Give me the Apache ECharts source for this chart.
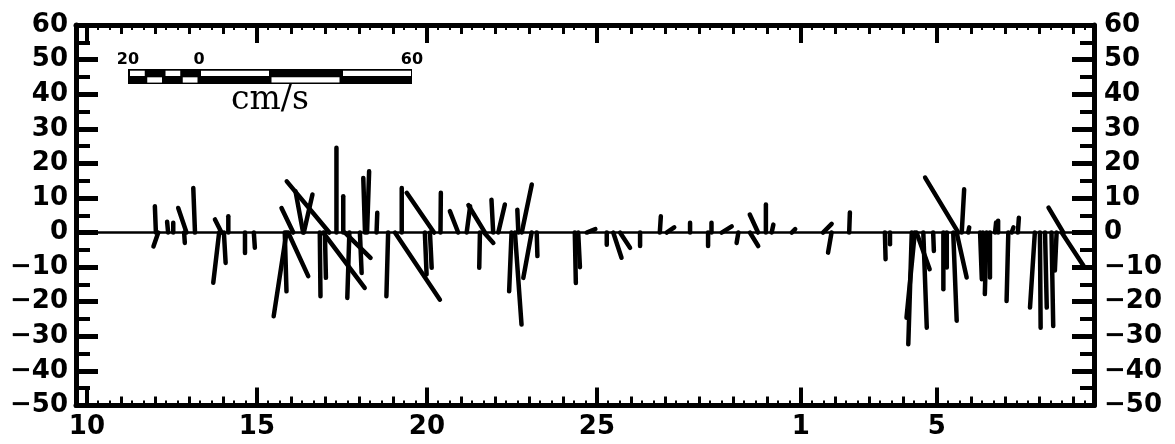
<!DOCTYPE html>
<html>
<head>
<meta charset="utf-8">
<script src="https://cdn.jsdelivr.net/npm/echarts@6/dist/echarts.min.js"></script>
<style>
html,body{margin:0;padding:0;background:#fff;}
#chart{width:1175px;height:444px;}
</style>
</head>
<body>
<div id="chart"></div>
<script>
// ---- data: stick (current vector) plot; time in days (31 = 1st of next month)
const stickTime = [12.03,12.10,12.39,12.54,12.86,12.93,13.18,13.89,13.96,14.03,14.16,14.65,14.91,
  15.82,15.87,15.92,16.07,16.36,16.38,16.85,16.95,17.00,17.13,17.34,17.54,17.59,17.72,18.03,18.18,18.24,18.52,18.86,19.06,19.26,19.94,20.09,20.21,20.40,20.92,21.17,
  21.56,21.68,21.71,21.95,22.10,22.49,22.59,22.69,22.79,23.08,23.23,24.35,24.45,24.70,25.29,25.48,25.68,26.27,26.85,27.05,27.74,28.27,28.37,28.67,29.16,29.50,29.74,29.97,30.14,30.73,
  31.65,31.90,32.42,33.47,33.62,34.26,34.35,34.40,34.60,34.89,35.19,35.29,35.48,35.58,35.63,35.73,35.92,36.27,36.35,36.46,36.56,36.71,36.80,37.10,37.20,37.38,37.88,38.03,38.18,38.37,38.52,38.67,38.72];
const stickU = [-0.3,-1.4,-0.3,0,0.2,-2.4,-0.5,-1.7,-1.9,0.5,0,0,0.3,
  0.5,-3.7,5.8,-3.4,-2.2,2.5,0.2,12,0.3,-12.3,0,0,7.4,-0.6,0.5,-0.5,0.6,0.2,-0.5,13,0,0.5,0.5,-7.9,0.1,-2.4,1,
  -0.2,2.7,-4.8,-0.5,1.9,-0.7,1.9,-0.3,2.9,-2.4,0.2,0.3,0.5,2.5,0,2.4,2.9,0,0.3,2.2,0,0,0,2.9,-0.5,2.4,-2.4,0,0.5,1,
  2.5,-1,0.2,0.2,0,-1,-2.4,3.8,1,0.2,0,0,1,2.9,-9.6,0.7,0.3,0.5,0.5,-0.5,0,0.3,0,-0.5,0.5,0.3,-1.4,0.2,0.5,0.5,-0.5,6.3,-4.3];
const stickV = [7.6,-4.0,3.1,2.8,-3.0,7.1,12.9,-14.5,3.8,-8.8,4.7,-5.9,-4.4,
  -17,-24.2,-12.6,7.1,11.9,11,-18.4,-16,-13.1,14.8,24.5,10.5,-7.3,-18.9,-11.7,15.8,17.7,5.7,-18.4,-19.4,12.9,-12.1,-10.2,11.5,11.5,6.2,7.6,
  -10.2,-3,7.9,9.5,8.1,-17,-26.6,6.6,13.9,-13.1,-6.8,-14.6,-10,1,-3.5,-7.3,-4.4,-3.9,4.7,1.5,2.8,-3.9,2.8,1.8,-3,-3.9,5.2,8.1,2.3,1,
  2.5,-5.8,5.8,-7.7,-3.4,-32.3,-24.6,-10.6,-27.5,-5.3,-16.4,-10.1,-25.5,-13,15.9,12.5,1.5,-13.5,-12,-17.8,-13,2.9,3.4,-19.8,1.5,4.3,-21.7,-27.5,-21.7,-27,-11,-9.6,7.2];

const xMin = 9.68, xMax = 39.62;
const dayLabelValues = [10, 15, 20, 25, 31, 35];
const dayLabelTexts = ['10', '15', '20', '25', '1', '5'];
const dayTickValues = [10,11,12,13,14,15,16,17,18,19,20,21,22,23,24,25,26,27,28,29,30,31,32,33,34,35,36,37,38,39];
const subTickValues = [];
dayTickValues.forEach(d => { subTickValues.push(d + 1/3, d + 2/3); });
const yMin = -50, yMax = 60, yStep = 10;
const scaleBarLabels = ['20', '0', '60'];
const scaleBarLabelValues = [-20, 0, 60];

const FONT = 'DejaVu Sans';
const chart = echarts.init(document.getElementById('chart'), null, {renderer: 'canvas'});

function xAxisDef(pos, ticks, len, width, withLabels) {
  return {
    type: 'value', position: pos, min: xMin, max: xMax,
    axisLine: {show: withLabels, onZero: false, lineStyle: {color: '#000', width: 5}},
    axisTick: {show: true, inside: true, length: len, customValues: ticks, lineStyle: {color: '#000', width: width}},
    axisLabel: withLabels && pos === 'bottom' ? {
      show: true, customValues: dayLabelValues, margin: 9,
      formatter: v => dayLabelTexts[dayLabelValues.indexOf(Math.round(v))] || '',
      color: '#000', fontFamily: FONT, fontWeight: 'bold', fontSize: 26
    } : {show: false},
    splitLine: {show: false}
  };
}

function yAxisDef(pos) {
  return {
    type: 'value', position: pos, min: yMin, max: yMax, interval: yStep,
    axisLine: {show: true, onZero: false, lineStyle: {color: '#000', width: 5}},
    axisTick: {show: true, inside: true, length: 22, lineStyle: {color: '#000', width: 5}},
    minorTick: {show: true, splitNumber: 2, length: 14, lineStyle: {color: '#000', width: 4}},
    axisLabel: {
      show: true, margin: pos === 'left' ? 8 : 10,
      formatter: v => String(v).replace('-', '\u2212'),
      color: '#000', fontFamily: FONT, fontWeight: 'bold', fontSize: 26
    },
    splitLine: {show: false}, minorSplitLine: {show: false}
  };
}

const sb = {x0: 199, k: 3.55, y: 69, h: 15};
function sbx(v) { return sb.x0 + v * sb.k; }
const topWhite = [[-20,-15],[-10,-5],[0,20],[40,60]];
const botWhite = [[-15,-10],[-5,0],[20,40]];
const sbChildren = [{type: 'rect', shape: {x: sbx(-20), y: sb.y, width: sbx(60) - sbx(-20), height: sb.h}, style: {fill: '#000'}}];
topWhite.forEach(s => sbChildren.push({type: 'rect', shape: {x: sbx(s[0]) + 2, y: sb.y + 1.7, width: sbx(s[1]) - sbx(s[0]) - 3, height: 5.3}, style: {fill: '#fff'}}));
botWhite.forEach(s => sbChildren.push({type: 'rect', shape: {x: sbx(s[0]) + 1.5, y: sb.y + 8.3, width: sbx(s[1]) - sbx(s[0]) - 3, height: 5.3}, style: {fill: '#fff'}}));
scaleBarLabels.forEach((txt, i) => sbChildren.push({type: 'text', x: sbx(scaleBarLabelValues[i]), y: 60, style: {text: txt, font: 'bold 16px "DejaVu Sans"', fill: '#000', textAlign: 'center', textVerticalAlign: 'middle'}}));
sbChildren.push({type: 'text', x: 270, y: 117, style: {text: 'cm/s', font: '33px "DejaVu Serif"', fill: '#000', textAlign: 'center', textVerticalAlign: 'bottom'}});

const option = {
  animation: false,
  backgroundColor: '#fff',
  grid: {left: 76, right: 81, top: 25, bottom: 38.5, containLabel: false},
  xAxis: [
    xAxisDef('bottom', dayLabelValues, 18, 4, true),
    xAxisDef('bottom', dayTickValues, 9, 3, false),
    xAxisDef('bottom', subTickValues, 5, 2, false),
    xAxisDef('top', dayLabelValues, 18, 4, true),
    xAxisDef('top', dayTickValues, 9, 3, false),
    xAxisDef('top', subTickValues, 5, 2, false)
  ],
  yAxis: [yAxisDef('left'), yAxisDef('right')],
  graphic: [{type: 'group', children: sbChildren}],
  series: [{
    type: 'custom',
    xAxisIndex: 0, yAxisIndex: 0,
    clip: true,
    encode: {x: 0, y: 2},
    data: stickTime.map((t, i) => [t, stickU[i], stickV[i]]),
    renderItem: function (params, api) {
      const t = api.value(0), u = api.value(1), v = api.value(2);
      const base = api.coord([t, 0]);
      const tip = api.coord([t, v]);
      const unit = api.size([0, 1])[1];
      return {
        type: 'line',
        shape: {x1: base[0], y1: base[1], x2: base[0] + u * unit, y2: tip[1]},
        style: {stroke: '#000', lineWidth: 4.5, lineCap: 'round'}
      };
    },
    markLine: {
      silent: true, symbol: 'none', animation: false,
      label: {show: false},
      lineStyle: {color: '#000', width: 2.5, type: 'solid'},
      data: [{yAxis: 0}]
    }
  }]
};
chart.setOption(option);
</script>
</body>
</html>
